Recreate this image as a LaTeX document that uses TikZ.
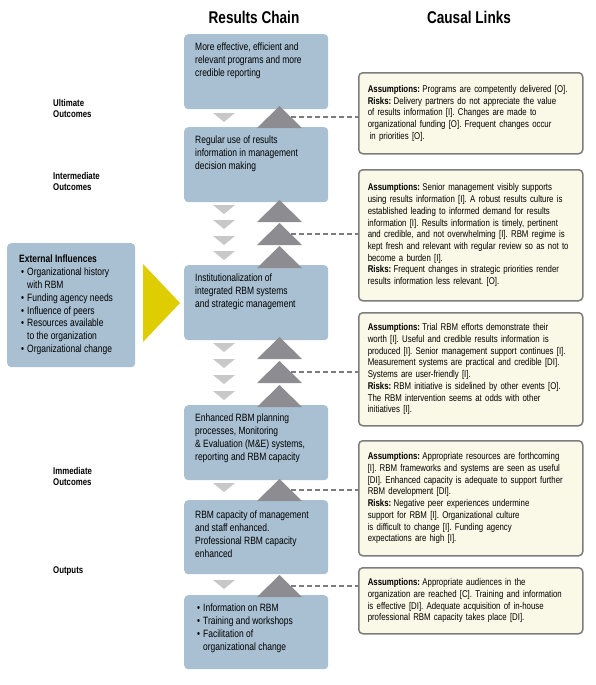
\documentclass[tikz,border=0pt]{standalone}
\usepackage{fontspec}
\setmainfont{Liberation Sans}[FakeStretch=0.8]
\usetikzlibrary{calc}
\frenchspacing
\definecolor{boxblue}{RGB}{168,192,210}
\definecolor{upgray}{RGB}{140,140,145}
\definecolor{downgray}{RGB}{200,200,200}
\definecolor{cream}{RGB}{250,248,230}
\definecolor{bordergray}{RGB}{125,125,125}
\definecolor{yell}{RGB}{222,205,0}
\newcommand{\uptri}[2]{\fill[upgray] (257,{#2+22}) -- (279.5,#2) -- (302,{#2+22}) -- cycle; \coordinate (#1) at (291,{#2+11});}
\newcommand{\downtri}[1]{\fill[downgray] (213,#1) -- (235,#1) -- (224,{#1+9}) -- cycle;}
\newcommand{\bul}{\llap{\textbullet\hspace{3pt}}}
\newcommand{\ass}{\textbf{Assumptions:}\hspace{2.4pt}}
\newcommand{\risk}{\textbf{Risks:}\hspace{2.4pt}}
\tikzset{
  rbox/.style={fill=boxblue, draw=none, rounded corners=4pt, minimum width=144pt, anchor=north west, inner sep=0pt},
  btext/.style={anchor=north west, inner sep=0pt, align=left, font=\fontsize{10.6}{12.8}\selectfont},
  abox/.style={fill=cream, draw=bordergray, line width=1.5pt, rounded corners=4pt, anchor=north west, inner xsep=9pt, inner ysep=0pt, minimum width=222pt, text width=206pt, align=left, font=\fontsize{9.8}{11.7}\selectfont},
  lbl/.style={anchor=north west, inner sep=0pt, align=left, font=\bfseries\fontsize{9.8}{11.5}\selectfont},
  ttl/.style={font=\bfseries\fontsize{17}{20}\selectfont, inner sep=0pt},
  dashline/.style={draw=bordergray, line width=1.5pt, dash pattern=on 5pt off 3pt}
}
\begin{document}
\begin{tikzpicture}[x=1pt,y=-1pt]
\useasboundingbox (0,0) rectangle (595,685);
% titles
\node[ttl] (t1) at (254,17) {Results Chain};
\node[ttl] (t2) at (469,17) {Causal Links};
% level labels
\node[lbl] (l1) at (53,99) {Ultimate\\Outcomes};
\node[lbl] (l2) at (53,172) {Intermediate\\Outcomes};
\node[lbl] (l3) at (53,467) {Immediate\\Outcomes};
\node[lbl] (l4) at (53,566) {Outputs};
% results chain boxes
\node[rbox, minimum height=75pt] (b1) at (184,34) {};
\node[btext] at ($(b1.north west)+(11,9)$) {More effective, efficient and\\relevant programs and more\\credible reporting};
\node[rbox, minimum height=75pt] (b2) at (184,127) {};
\node[btext] at ($(b2.north west)+(11,9)$) {Regular use of results\\information in management\\decision making};
\node[rbox, minimum height=75pt] (b3) at (184,265) {};
\node[btext] at ($(b3.north west)+(11,9)$) {Institutionalization of\\integrated RBM systems\\and strategic management};
\node[rbox, minimum height=75pt] (b4) at (184,405) {};
\node[btext] at ($(b4.north west)+(11,9)$) {Enhanced RBM planning\\processes, Monitoring\\\& Evaluation (M\&E) systems,\\reporting and RBM capacity};
\node[rbox, minimum height=74pt] (b5) at (184,500) {};
\node[btext] at ($(b5.north west)+(11,11)$) {RBM capacity of management\\and staff enhanced.\\Professional RBM capacity\\enhanced};
\node[rbox, minimum height=74pt] (b6) at (184,595) {};
\node[btext] at ($(b6.north west)+(19,9)$) {\bul Information on RBM\\\bul Training and workshops\\\bul Facilitation of\\organizational change};
% external influences
\node[rbox, minimum width=128pt, minimum height=124pt] (ext) at (7,243) {};
\node[btext] at ($(ext.north west)+(20,12)$) {\hspace{-8pt}\textbf{External Influences}\\\bul Organizational history\\with RBM\\\bul Funding agency needs\\\bul Influence of peers\\\bul Resources available\\to the organization\\\bul Organizational change};
\fill[yell] (143,264) -- (180,303) -- (143,342) -- cycle;
% triangles
\uptri{u1}{106}
\downtri{113}
\uptri{u2}{200}\uptri{u3}{223}\uptri{u4}{246}
\downtri{205}\downtri{220}\downtri{236}\downtri{251}
\uptri{u5}{337}\uptri{u6}{361}\uptri{u7}{385}
\downtri{343}\downtri{359}\downtri{375}\downtri{391}
\uptri{u8}{479}
\downtri{483}
\uptri{u9}{575}
\downtri{580}
% assumption boxes
\node[abox, minimum height=81pt] (a1) at (358,72) {\ass Programs are competently delivered [O].\\\risk Delivery partners do not appreciate the value\\of results information [I]. Changes are made to\\organizational funding [O]. Frequent changes occur\\\hspace{2pt}in priorities [O].};
\node[abox, minimum height=131pt] (a2) at (358,169) {\ass Senior management visibly supports\\using results information [I]. A robust results culture is\\established leading to informed demand for results\\information [I]. Results information is timely, pertinent\\and credible, and not overwhelming [I]. RBM regime is\\kept fresh and relevant with regular review so as not to\\become a burden [I].\\\risk Frequent changes in strategic priorities render\\results information less relevant. [O].};
\node[abox, minimum height=113pt] (a3) at (358,312) {\ass Trial RBM efforts demonstrate their\\worth [I]. Useful and credible results information is\\produced [I]. Senior management support continues [I].\\Measurement systems are practical and credible [DI].\\Systems are user-friendly [I].\\\risk RBM initiative is sidelined by other events [O].\\The RBM intervention seems at odds with other\\initiatives [I].};
\node[abox, minimum height=115pt] (a4) at (358,440) {\ass Appropriate resources are forthcoming\\{}[I]. RBM frameworks and systems are seen as useful\\{}[DI]. Enhanced capacity is adequate to support further\\RBM development [DI].\\\risk Negative peer experiences undermine\\support for RBM [I]. Organizational culture\\is difficult to change [I]. Funding agency\\expectations are high [I].};
\node[abox, minimum height=66pt] (a5) at (358,567) {\ass Appropriate audiences in the\\organization are reached [C]. Training and information\\is effective [DI]. Adequate acquisition of in-house\\professional RBM capacity takes place [DI].};
% dashed links
\draw[dashline] (u1) -- (a1.west |- u1);
\draw[dashline] (u3) -- (a2.west |- u3);
\draw[dashline] (u6) -- (a3.west |- u6);
\draw[dashline] (u8) -- (a4.west |- u8);
\draw[dashline] (u9) -- (a5.west |- u9);
\end{tikzpicture}
\end{document}
